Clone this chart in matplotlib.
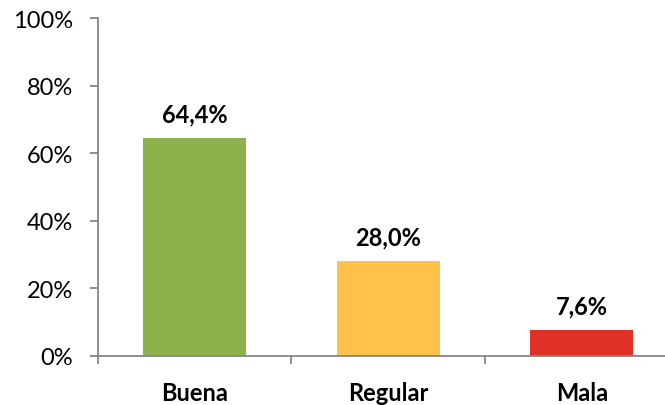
#! /usr/bin/env python3

import numpy as np
import matplotlib.pyplot as plt

# data
categorias = ['Buena', 'Regular', 'Mala']
valores = [64.4, 28.0, 7.6]
etiquetas = ['64,4%', '28,0%', '7,6%']
colores = ['#8DB14B', '#FEC14A', '#E03126']
yticks = [0, 20, 40, 60, 80, 100]
yticklabels = ['0%', '20%', '40%', '60%', '80%', '100%']

plt.rcParams['font.family'] = ['Lato', 'DejaVu Sans']

fig = plt.figure(figsize=(6.65, 4.06), dpi=100)
ax = fig.add_axes([98/665, 49/406, 580.5/665, 338/406])

x = np.arange(len(categorias))
bars = ax.bar(x, valores, width=0.53, color=colores)

for xi, v, lab in zip(x, valores, etiquetas):
	ax.annotate(lab, (xi, v), xytext=(0, 12), textcoords='offset points',
		ha='center', va='baseline', fontsize=17, fontweight='bold', color='#000000')

ax.set_xlim(-0.5, 2.5)
ax.set_ylim(0, 100)

ax.set_yticks(yticks)
ax.set_yticklabels(yticklabels)
ax.set_xticks(x)
ax.set_xticklabels(categorias, fontweight='bold')
ax.set_xticks([-0.5, 0.5, 1.5, 2.5], minor=True)

gris = '#868686'
for s in ['top', 'right']:
	ax.spines[s].set_visible(False)
for s in ['left', 'bottom']:
	ax.spines[s].set_color(gris)
	ax.spines[s].set_linewidth(1.3)

ax.tick_params(axis='y', length=6, width=1.3, color=gris, labelsize=17, pad=12)
ax.tick_params(axis='x', which='major', length=0, labelsize=17, pad=18)
ax.tick_params(axis='x', which='minor', length=6, width=1.3, color=gris)

fig.savefig('out.png', dpi=100)
